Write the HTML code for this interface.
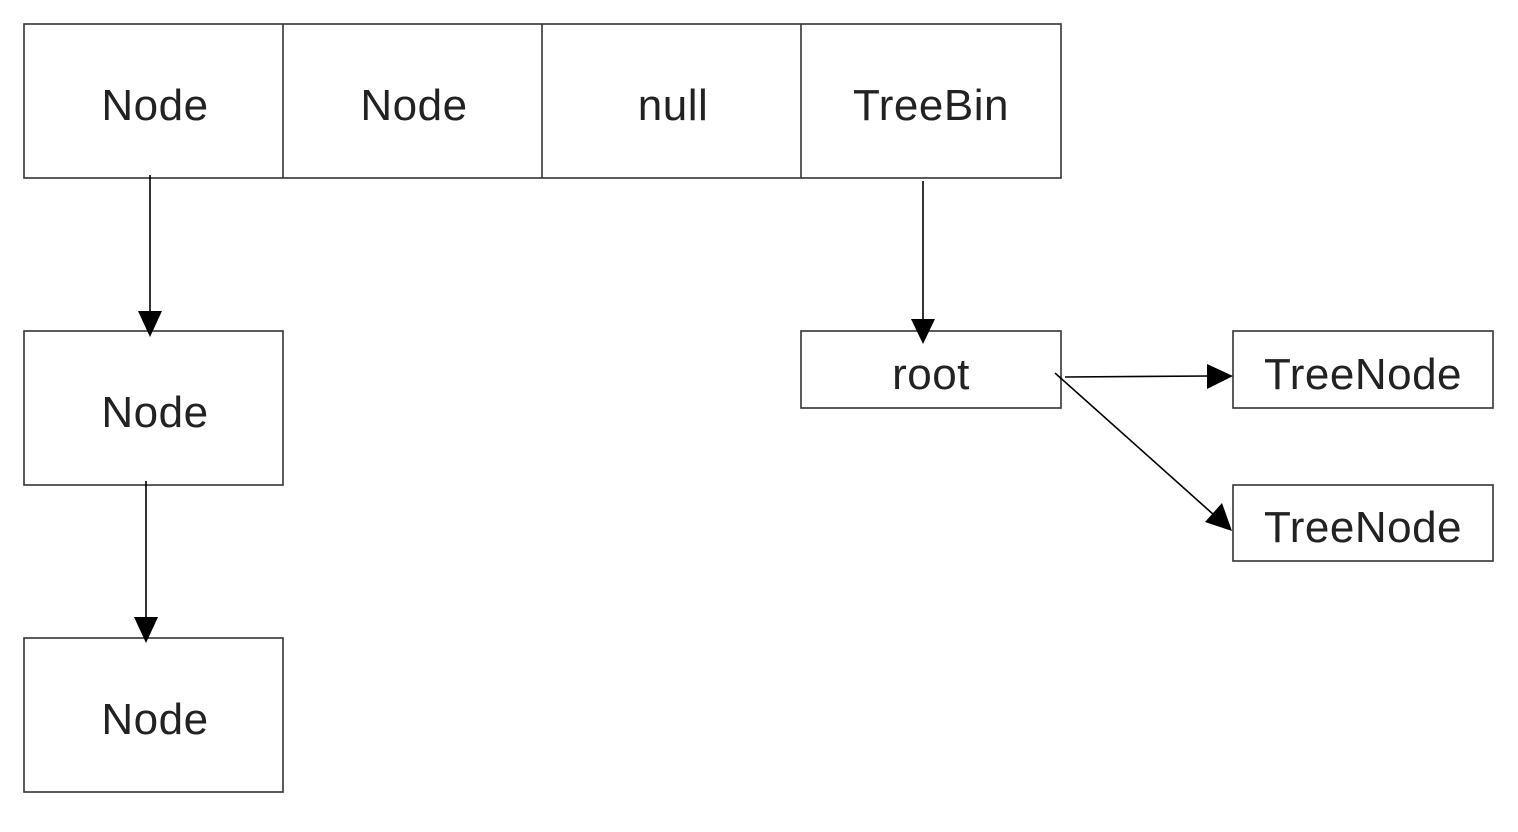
<!DOCTYPE html>
<html><head><style>
body{margin:0;background:#fff;}
</style></head><body>
<svg width="1518" height="832" xmlns="http://www.w3.org/2000/svg" style="display:block">
<g fill="none" stroke="#333" stroke-width="1.6">
<rect x="24" y="24" width="1037" height="154"/>
<line x1="283" y1="24" x2="283" y2="178"/>
<line x1="542" y1="24" x2="542" y2="178"/>
<line x1="801" y1="24" x2="801" y2="178"/>
<rect x="24" y="331" width="259" height="154"/>
<rect x="24" y="638" width="259" height="154"/>
<rect x="801" y="331" width="260" height="77"/>
<rect x="1233" y="331" width="260" height="77"/>
<rect x="1233" y="485" width="260" height="76"/>
</g>
<g stroke="#000" stroke-width="1.6" fill="none">
<line x1="150" y1="175" x2="150" y2="312"/>
<path d="M138,311 L162,311 L150,337 z" fill="#000" stroke="none"/>
<line x1="146" y1="481" x2="146" y2="618"/>
<path d="M134,617 L158,617 L146,643 z" fill="#000" stroke="none"/>
<line x1="923" y1="181" x2="923" y2="320"/>
<path d="M911,319 L935,319 L923,344 z" fill="#000" stroke="none"/>
<line x1="1065" y1="377" x2="1210" y2="376"/>
<path d="M1207,364 L1233,376 L1207,389 z" fill="#000" stroke="none"/>
<line x1="1055" y1="373" x2="1214" y2="515"/>
<path d="M1205,522 L1222,503 L1232,531 z" fill="#000" stroke="none"/>
</g>
<g font-family="Liberation Sans, sans-serif" font-size="44" fill="#222" text-anchor="middle" letter-spacing="0.5">
<text x="155" y="120">Node</text>
<text x="414" y="120">Node</text>
<text x="673" y="120">null</text>
<text x="931" y="120">TreeBin</text>
<text x="155" y="427">Node</text>
<text x="155" y="734">Node</text>
<text x="931" y="389">root</text>
<text x="1363" y="389">TreeNode</text>
<text x="1363" y="542">TreeNode</text>
</g>
</svg>
</body></html>
